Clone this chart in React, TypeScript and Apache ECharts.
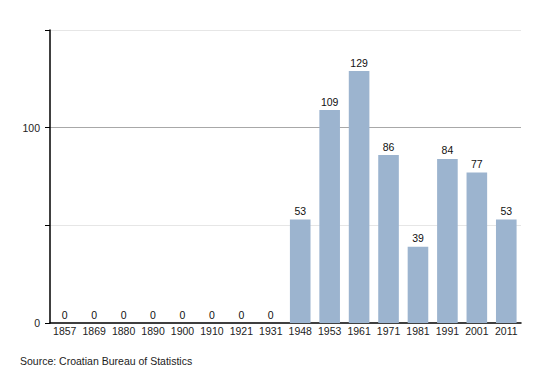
import React, { useEffect, useRef } from "react";
import * as echarts from "echarts";

const years = ["1857", "1869", "1880", "1890", "1900", "1910", "1921", "1931", "1948", "1953", "1961", "1971", "1981", "1991", "2001", "2011"];
const population = [0, 0, 0, 0, 0, 0, 0, 0, 53, 109, 129, 86, 39, 84, 77, 53];
const yLabels = ["0", "100"];
const majorGridValue = 100;
const sourceText = "Source: Croatian Bureau of Statistics";

export default function App() {
  const ref = useRef<HTMLDivElement>(null);
  useEffect(() => {
    document.body.style.margin = "0";
    if (!ref.current) return;
    const chart = echarts.init(ref.current, null, { renderer: "svg" });
    const font = "'Liberation Sans', Arial, sans-serif";
    chart.setOption({
      animation: false,
      backgroundColor: "#ffffff",
      textStyle: { fontFamily: font },
      grid: { left: 50, right: 29, top: 30, bottom: 50 },
      xAxis: {
        type: "category",
        data: years,
        axisLine: { show: true, lineStyle: { color: "#000", width: 1.5 } },
        axisTick: { show: false },
        axisLabel: { color: "#222", fontSize: 10.5, fontFamily: font, margin: 2, interval: 0 },
      },
      yAxis: {
        type: "value",
        min: 0,
        max: 150,
        interval: 50,
        axisLine: { show: true, lineStyle: { color: "#000", width: 1.5 } },
        axisTick: { show: true, length: 5, lineStyle: { color: "#000" } },
        axisLabel: {
          color: "#222",
          fontSize: 10.5,
          fontFamily: font,
          margin: 10,
          formatter: (v: number) => (yLabels.includes(String(v)) ? String(v) : ""),
        },
        splitLine: {
          show: true,
          showMinLine: false,
          lineStyle: { color: "#e6e6e6", width: 1 },
        },
      },
      series: [
        {
          type: "bar",
          data: population,
          barWidth: "70%",
          itemStyle: { color: "#9cb4cf" },
          label: {
            show: true,
            position: "top",
            distance: 3,
            color: "#111",
            fontSize: 10.5,
            fontFamily: font,
          },
          markLine: {
            silent: true,
            symbol: "none",
            label: { show: false },
            z: 0,
            lineStyle: { color: "#a8a8a8", type: "solid", width: 1 },
            data: [{ yAxis: majorGridValue }],
          },
        },
      ],
      graphic: [
        {
          type: "text",
          left: 20,
          top: 355,
          style: { text: sourceText, fontSize: 10.5, fontFamily: font, fill: "#222" },
        },
      ],
    });
    return () => chart.dispose();
  }, []);
  return <div ref={ref} style={{ width: 550, height: 373 }} />;
}
